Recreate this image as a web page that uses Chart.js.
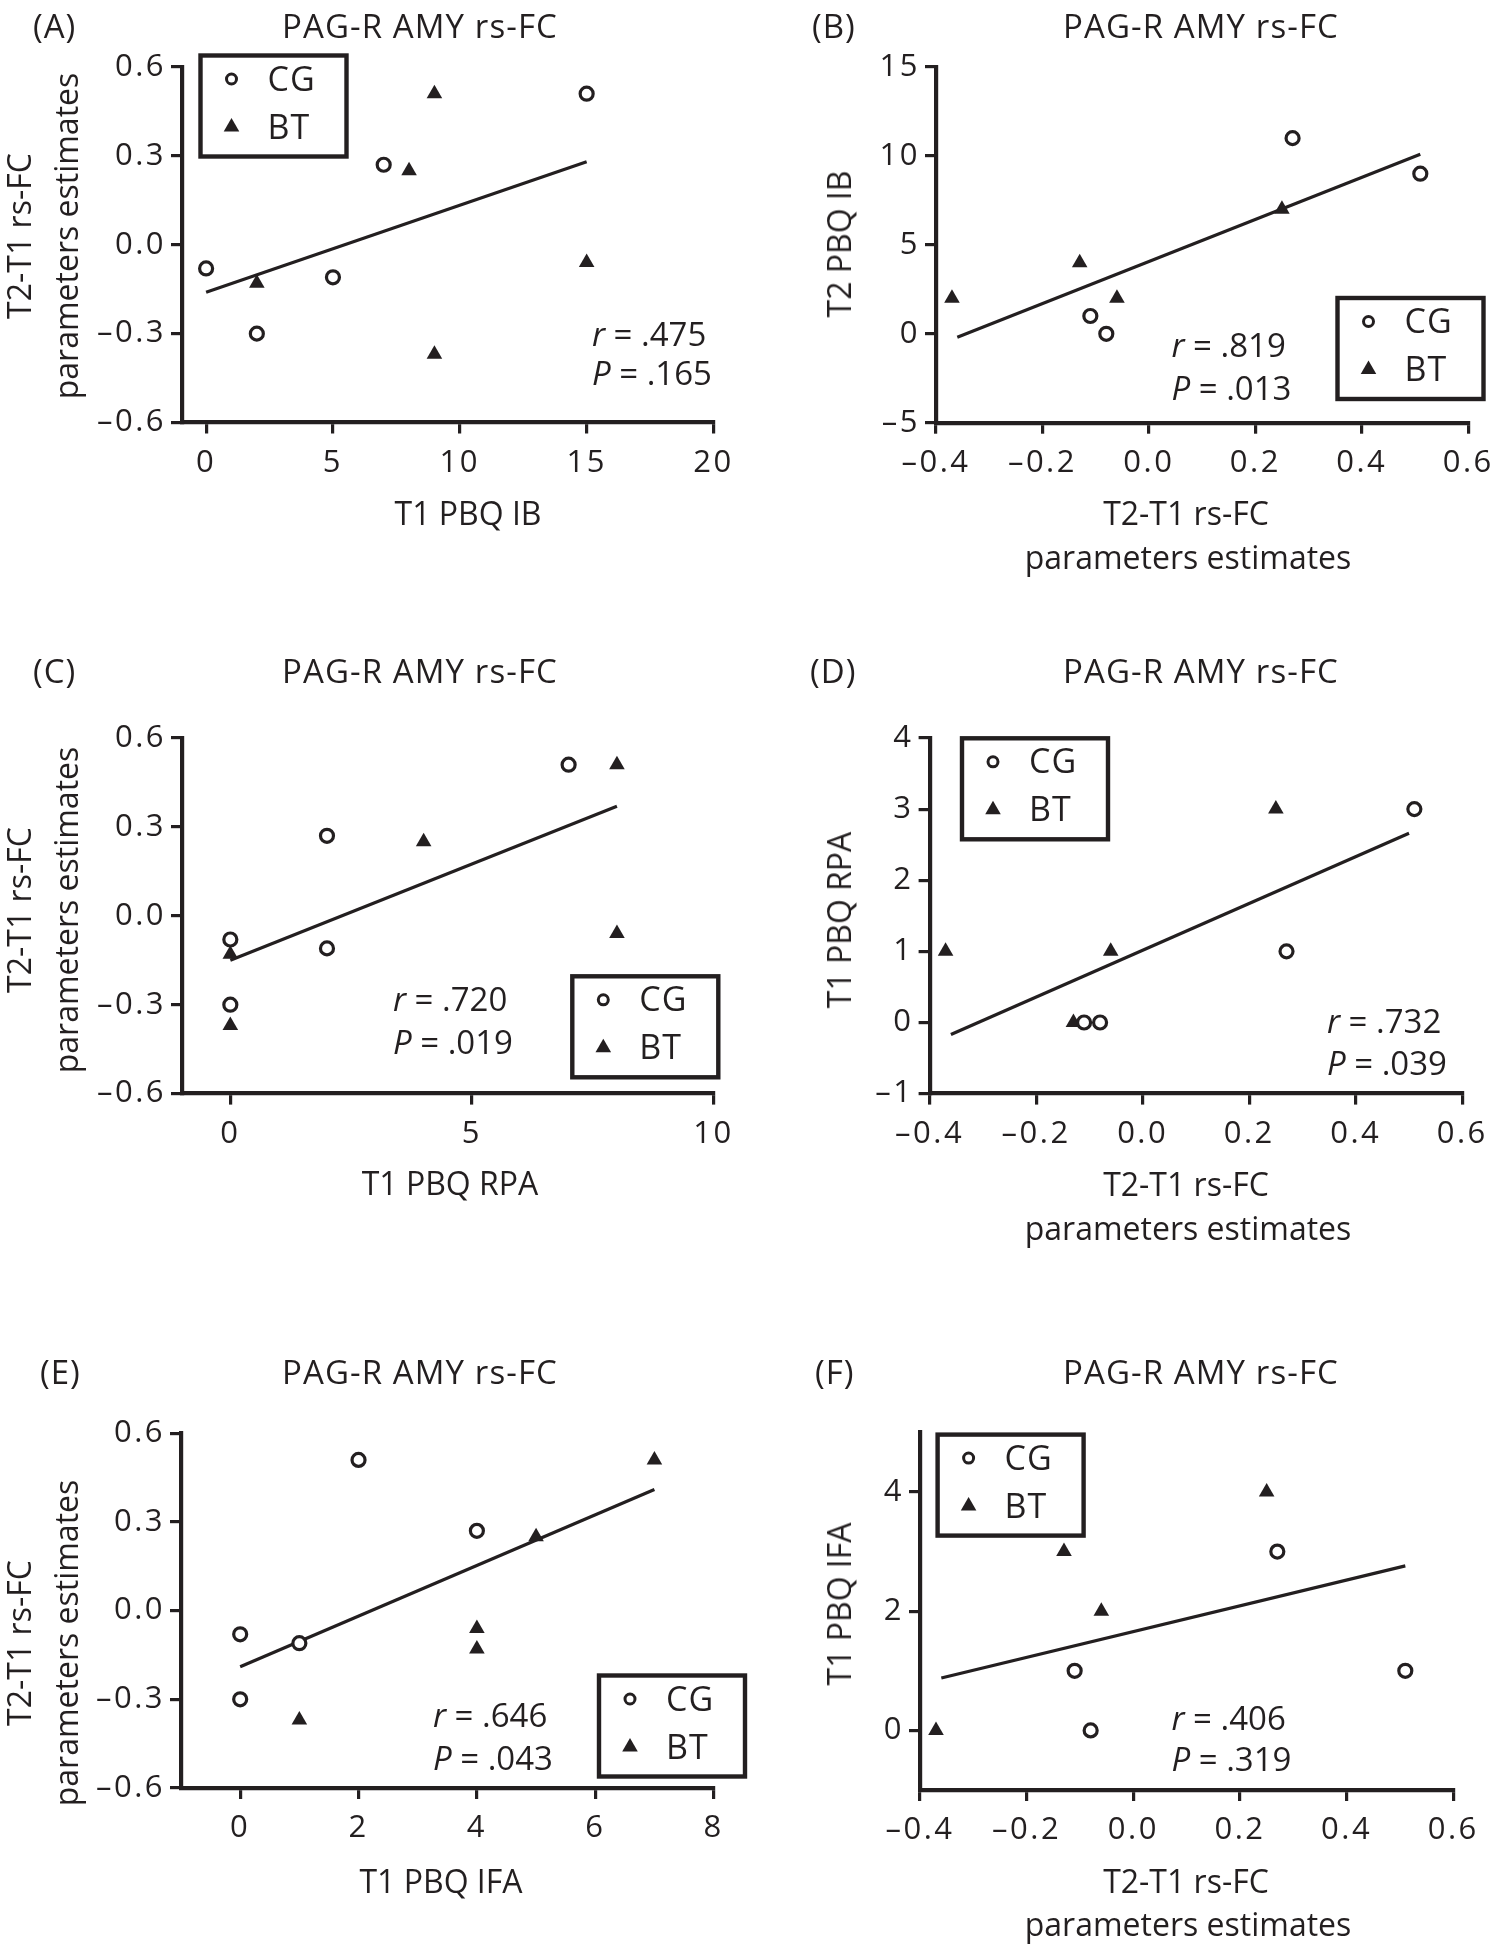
<!DOCTYPE html>
<html>
<head>
<meta charset="utf-8">
<script src="https://cdn.jsdelivr.net/npm/chart.js@4.4.0/dist/chart.umd.min.js"></script>
<style>
  html, body { margin: 0; padding: 0; background: #fff; }
  #page { position: relative; width: 1501px; height: 1950px; overflow: hidden;
          font-family: 'Open Sans', sans-serif; color: #231f20; }
  canvas { position: absolute; }
  .txt { position: absolute; white-space: nowrap; line-height: 1; }
  .c { transform: translate(-50%, -50%); }
  .l { transform: translate(0, -50%); }
  .v { transform: translate(-50%, -50%) rotate(-90deg); }
</style>
</head>
<body>
<div id="page"></div>
<script>
// ---- data ----
// (A) T1 PBQ IB vs T2-T1 rs-FC
const aCgX = [0, 2, 5, 7, 15];
const aCgY = [-0.08, -0.30, -0.11, 0.27, 0.51];
const aBtX = [2, 8, 9, 9, 15];
const aBtY = [-0.13, 0.25, 0.51, -0.37, -0.06];
const aFitX = [0, 15];
const aFitY = [-0.16, 0.28];

// (B) T2-T1 rs-FC vs T2 PBQ IB
const bCgX = [-0.11, -0.08, 0.27, 0.51];
const bCgY = [1, 0, 11, 9];
const bBtX = [-0.37, -0.13, -0.06, 0.25];
const bBtY = [2, 4, 2, 7];
const bFitX = [-0.36, 0.51];
const bFitY = [-0.2, 10.1];

// (C) T1 PBQ RPA vs T2-T1 rs-FC
const cCgX = [0, 0, 2, 2, 7];
const cCgY = [-0.08, -0.30, 0.27, -0.11, 0.51];
const cBtX = [0, 0, 4, 8, 8];
const cBtY = [-0.13, -0.37, 0.25, 0.51, -0.06];
const cFitX = [0, 8];
const cFitY = [-0.15, 0.37];

// (D) T2-T1 rs-FC vs T1 PBQ RPA
const dCgX = [-0.11, -0.08, 0.27, 0.51];
const dCgY = [0, 0, 1, 3];
const dBtX = [-0.37, -0.13, -0.06, 0.25];
const dBtY = [1, 0, 1, 3];
const dFitX = [-0.36, 0.50];
const dFitY = [-0.17, 2.66];

// (E) T1 PBQ IFA vs T2-T1 rs-FC
const eCgX = [0, 0, 1, 2, 4];
const eCgY = [-0.08, -0.30, -0.11, 0.51, 0.27];
const eBtX = [1, 4, 4, 5, 7];
const eBtY = [-0.37, -0.06, -0.13, 0.25, 0.51];
const eFitX = [0, 7];
const eFitY = [-0.19, 0.41];

// (F) T2-T1 rs-FC vs T1 PBQ IFA
const fCgX = [-0.11, -0.08, 0.27, 0.51];
const fCgY = [1, 0, 3, 1];
const fBtX = [-0.37, -0.13, -0.06, 0.25];
const fBtY = [0, 3, 2, 4];
const fFitX = [-0.36, 0.51];
const fFitY = [0.88, 2.76];

// tick labels
const ticksIB = [0, 5, 10, 15, 20];
const ticksFC = [-0.6, -0.3, 0, 0.3, 0.6];
const ticksFCx = [-0.4, -0.2, 0, 0.2, 0.4, 0.6];
const ticksT2IB = [-5, 0, 5, 10, 15];
const ticksRPAx = [0, 5, 10];
const ticksRPAy = [-1, 0, 1, 2, 3, 4];
const ticksIFAx = [0, 2, 4, 6, 8];
const ticksIFAy = [0, 2, 4];

const groups = ['CG', 'BT'];
const panelTitle = 'PAG-R AMY rs-FC';
const rValues = ['.475', '.819', '.720', '.732', '.646', '.406'];
const pValues = ['.165', '.013', '.019', '.039', '.043', '.319'];

const ink = '#231f20';
const page = document.getElementById('page');

function fmt(v, digits) {
  return Number(v).toFixed(digits).replace('-', '\u2013');
}

function pts(xs, ys) {
  return xs.map((x, i) => ({x: x, y: ys[i]}));
}

// the print font is wider than Open Sans, open the tick labels up a little
const spacing = {
  id: 'spacing',
  beforeDraw(chart) { chart.ctx.letterSpacing = '2.5px'; }
};

// legend box drawn inside the plot, markers match the datasets
const boxLegend = {
  id: 'boxLegend',
  afterDraw(chart, args, opts) {
    const ctx = chart.ctx;
    ctx.save();
    ctx.letterSpacing = '1px';
    ctx.lineWidth = 4.4;
    ctx.strokeStyle = ink;
    ctx.strokeRect(opts.x, opts.y, 146, 101);
    ctx.font = '34px "Open Sans"';
    ctx.fillStyle = ink;
    ctx.textBaseline = 'middle';
    groups.forEach((g, i) => {
      const cy = opts.y + 23.5 + i * 48;
      const cx = opts.x + 31;
      if (i === 0) {
        ctx.beginPath();
        ctx.lineWidth = 3;
        ctx.arc(cx, cy, 5, 0, Math.PI * 2);
        ctx.fillStyle = '#fff';
        ctx.fill();
        ctx.stroke();
        ctx.fillStyle = ink;
      } else {
        const r = 9;
        ctx.beginPath();
        ctx.moveTo(cx, cy - r);
        ctx.lineTo(cx + r * Math.sin(Math.PI * 2 / 3), cy - r * Math.cos(Math.PI * 2 / 3));
        ctx.lineTo(cx + r * Math.sin(Math.PI * 4 / 3), cy - r * Math.cos(Math.PI * 4 / 3));
        ctx.closePath();
        ctx.fill();
      }
      ctx.fillText(g, opts.x + 67, cy + 2);
    });
    ctx.restore();
  }
};

function addText(str, x, y, cls, size, ls) {
  const d = document.createElement('div');
  d.className = 'txt ' + cls;
  d.style.left = x + 'px';
  d.style.top = y + 'px';
  d.style.fontSize = size + 'px';
  if (ls) d.style.letterSpacing = ls + 'px';
  d.innerHTML = str;
  page.appendChild(d);
}

function makePanel(p) {
  const cv = document.createElement('canvas');
  cv.width = p.box[2];
  cv.height = p.box[3];
  cv.style.left = p.box[0] + 'px';
  cv.style.top = p.box[1] + 'px';
  page.appendChild(cv);

  const axis = (range, ticks, digits, pad, fit) => ({
    type: 'linear',
    min: range[0],
    max: range[1],
    afterBuildTicks: s => { s.ticks = ticks.map(v => ({value: v})); },
    afterFit: fit,
    ticks: {
      callback: v => fmt(v, digits),
      padding: pad,
      font: {size: 31, family: "'Open Sans', sans-serif"},
      color: ink,
      maxRotation: 0,
      autoSkip: false
    },
    grid: {drawOnChartArea: false, drawTicks: true, tickLength: 11, lineWidth: 3.2, color: ink},
    border: {display: true, width: 4.2, color: ink}
  });

  new Chart(cv, {
    type: 'scatter',
    data: {
      datasets: [
        {label: 'fit', data: pts(p.fit[0], p.fit[1]), showLine: true, borderColor: ink,
         borderWidth: 3.2, pointRadius: 0, order: 3},
        {label: groups[0], data: pts(p.cg[0], p.cg[1]), pointStyle: 'circle', pointRadius: 6.5,
         borderWidth: 3.2, borderColor: ink, backgroundColor: '#fff', order: 1},
        {label: groups[1], data: pts(p.bt[0], p.bt[1]), pointStyle: 'triangle', pointRadius: 9,
         borderWidth: 0, borderColor: ink, backgroundColor: ink, order: 2}
      ]
    },
    options: {
      responsive: false,
      animation: false,
      events: [],
      clip: false,
      layout: {padding: {left: 0, bottom: 0, top: p.area[2] - p.box[1],
                         right: p.box[0] + p.box[2] - p.area[1]}},
      plugins: {
        legend: {display: false},
        tooltip: {enabled: false},
        boxLegend: {x: p.legend[0] - p.box[0], y: p.legend[1] - p.box[1]}
      },
      scales: {
        x: axis(p.xRange, p.xTicks, p.xDigits, 11, s => { s.height = p.box[1] + p.box[3] - p.area[3]; }),
        y: axis(p.yRange, p.yTicks, p.yDigits, 5, s => { s.width = p.area[0] - p.box[0]; })
      }
    },
    plugins: [spacing, boxLegend]
  });

  // panel letter, title, axis titles, stats
  addText('(' + p.id + ')', p.letter[0], p.letter[1], 'l', 33, 1);
  addText(panelTitle, p.title[0], p.title[1], 'c', 33, 1.1);
  p.xTitle.forEach(t => addText(t[0], t[1], t[2], 'c', 32));
  p.yTitle.forEach(t => addText(t[0], t[1], t[2], 'v', 32));
  addText('<i>r</i> = ' + rValues[p.n], p.stats[0], p.stats[1], 'l', 33);
  addText('<i>P</i> = ' + pValues[p.n], p.stats[0], p.stats[2], 'l', 33);
}

const panels = [
  {id: 'A', n: 0, box: [0, 0, 750, 640], area: [182, 713.5, 67, 422.5],
   cg: [aCgX, aCgY], bt: [aBtX, aBtY], fit: [aFitX, aFitY],
   xRange: [-0.95, 20], xTicks: ticksIB, xDigits: 0,
   yRange: [-0.6, 0.6], yTicks: ticksFC, yDigits: 1,
   legend: [200.5, 55.5], letter: [33, 25], title: [420, 25],
   xTitle: [['T1 PBQ IB', 468, 513]],
   yTitle: [['T2-T1 rs-FC', 19, 236], ['parameters estimates', 66, 236]],
   stats: [592, 333, 372]},
  {id: 'B', n: 1, box: [750, 0, 751, 640], area: [936, 1469.3, 67, 422.7],
   cg: [bCgX, bCgY], bt: [bBtX, bBtY], fit: [bFitX, bFitY],
   xRange: [-0.4, 0.6], xTicks: ticksFCx, xDigits: 1,
   yRange: [-5, 15], yTicks: ticksT2IB, yDigits: 0,
   legend: [1337.5, 298], letter: [812, 25], title: [1201, 25],
   xTitle: [['T2-T1 rs-FC', 1186, 513], ['parameters estimates', 1188, 557]],
   yTitle: [['T2 PBQ IB', 838.5, 244]],
   stats: [1171.5, 344, 386.5]},
  {id: 'C', n: 2, box: [0, 640, 750, 670], area: [182, 713.6, 738, 1093.6],
   cg: [cCgX, cCgY], bt: [cBtX, cBtY], fit: [cFitX, cFitY],
   xRange: [-1, 10], xTicks: ticksRPAx, xDigits: 0,
   yRange: [-0.6, 0.6], yTicks: ticksFC, yDigits: 1,
   legend: [572.3, 976.3], letter: [33, 669.6], title: [420, 669.6],
   xTitle: [['T1 PBQ RPA', 450, 1183]],
   yTitle: [['T2-T1 rs-FC', 19, 910], ['parameters estimates', 66, 910]],
   stats: [393, 998, 1041]},
  {id: 'D', n: 3, box: [750, 640, 751, 670], area: [929.6, 1462.3, 738, 1093.6],
   cg: [dCgX, dCgY], bt: [dBtX, dBtY], fit: [dFitX, dFitY],
   xRange: [-0.4, 0.6], xTicks: ticksFCx, xDigits: 1,
   yRange: [-1, 4], yTicks: ticksRPAy, yDigits: 0,
   legend: [962, 738.3], letter: [810, 669.6], title: [1201, 669.6],
   xTitle: [['T2-T1 rs-FC', 1186, 1184], ['parameters estimates', 1188, 1228]],
   yTitle: [['T1 PBQ RPA', 838.5, 919.6]],
   stats: [1327, 1020, 1062]},
  {id: 'E', n: 4, box: [0, 1310, 750, 640], area: [181, 713.6, 1433.3, 1788],
   cg: [eCgX, eCgY], bt: [eBtX, eBtY], fit: [eFitX, eFitY],
   xRange: [-1, 8], xTicks: ticksIFAx, xDigits: 0,
   yRange: [-0.6, 0.6], yTicks: ticksFC, yDigits: 1,
   legend: [599, 1675.5], letter: [40, 1371.2], title: [420, 1371.2],
   xTitle: [['T1 PBQ IFA', 441, 1881]],
   yTitle: [['T2-T1 rs-FC', 19, 1643], ['parameters estimates', 66, 1643]],
   stats: [433, 1714, 1757]},
  {id: 'F', n: 5, box: [750, 1310, 751, 640], area: [920, 1453.3, 1432.4, 1790],
   cg: [fCgX, fCgY], bt: [fBtX, fBtY], fit: [fFitX, fFitY],
   xRange: [-0.4, 0.6], xTicks: ticksFCx, xDigits: 1,
   yRange: [-1, 5], yTicks: ticksIFAy, yDigits: 0,
   legend: [937.6, 1434.6], letter: [815, 1371.2], title: [1201, 1371.2],
   xTitle: [['T2-T1 rs-FC', 1186, 1881], ['parameters estimates', 1188, 1924]],
   yTitle: [['T1 PBQ IFA', 838.5, 1603.5]],
   stats: [1171.5, 1716.5, 1758]}
];

panels.forEach(makePanel);
</script>
</body>
</html>
